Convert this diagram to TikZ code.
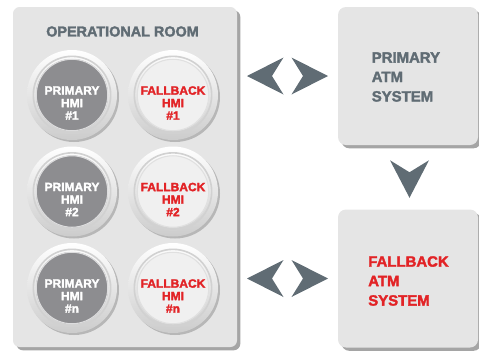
\documentclass[tikz,border=0pt]{standalone}
\usepackage{fontspec}
\setmainfont{Liberation Sans}[BoldFeatures={FakeBold=2.2}]
\usetikzlibrary{shadows,calc,positioning}

\definecolor{slate}{RGB}{96,108,116}
\definecolor{hmired}{RGB}{226,35,38}
\definecolor{boxgray}{RGB}{229,229,229}
\definecolor{discgray}{RGB}{141,141,144}
\definecolor{discwhite}{RGB}{240,240,240}

\tikzset{
  boxshadow/.style={drop shadow={shadow xshift=2.5pt,shadow yshift=-2.5pt,fill=black!70,opacity=.5}},
  roompanel/.style={rectangle,rounded corners=5pt,fill=boxgray,boxshadow,minimum width=168pt,minimum height=255pt,inner sep=0pt},
  sysbox/.style={rectangle,rounded corners=6pt,fill=boxgray,boxshadow,minimum width=105pt,minimum height=103.5pt,inner sep=0pt},
  hmi/.style={circle,minimum size=67.5pt,inner sep=0pt,top color=white,bottom color=black!20,
    drop shadow={shadow xshift=1.5pt,shadow yshift=-1.5pt,fill=black!50,opacity=.45}},
  primhmi/.style={hmi,path picture={
    \draw[black!18,line width=1.2pt] (path picture bounding box.center) circle (29pt);
    \fill[discgray] (path picture bounding box.center) circle (27pt);
    \draw[white!70!discgray,line width=.8pt] (path picture bounding box.center) circle (26.8pt);}},
  fallhmi/.style={hmi,path picture={
    \draw[black!18,line width=1.2pt] (path picture bounding box.center) circle (29pt);
    \fill[discwhite] (path picture bounding box.center) circle (27pt);
    \draw[black!12,line width=.8pt] (path picture bounding box.center) circle (26.8pt);}},
  hmitext/.style={align=center,inner sep=0pt,font=\fontsize{9}{9.4}\selectfont\bfseries},
  systext/.style={align=left,anchor=west,inner sep=0pt,font=\fontsize{11.2}{14.6}\selectfont\bfseries},
  roomtitle/.style={inner sep=0pt,text=slate,font=\fontsize{10.8}{12}\selectfont\bfseries},
  chevron/.style={fill=slate,draw=none}
}

\begin{document}
\begin{tikzpicture}[x=0.75pt,y=0.75pt,yscale=-1,xscale=1]
\useasboundingbox (0,0) rectangle (479,355);

%Operational room panel
\node[roompanel] (room) at (125,177) {};
% Text Node
\node[roomtitle] (roomlbl) at (122.5,31.5) {OPERATIONAL ROOM};

%Primary HMIs
\node[primhmi] (p1) at (72,95) {};
\node[primhmi] (p2) at (72,191.5) {};
\node[primhmi] (pn) at (72,288) {};
%Fallback HMIs
\node[fallhmi] (f1) at (173,95) {};
\node[fallhmi] (f2) at (173,191.5) {};
\node[fallhmi] (fn) at (173,288) {};

% Text Nodes
\node[hmitext,text=white] (p1t) at ($(p1)+(0,8)$) {PRIMARY\\HMI\\\#1};
\node[hmitext,text=white] (p2t) at ($(p2)+(0,8)$) {PRIMARY\\HMI\\\#2};
\node[hmitext,text=white] (pnt) at ($(pn)+(0,8)$) {PRIMARY\\HMI\\\#n};
\node[hmitext,text=hmired] (f1t) at ($(f1)+(0,8)$) {FALLBACK\\HMI\\\#1};
\node[hmitext,text=hmired] (f2t) at ($(f2)+(0,8)$) {FALLBACK\\HMI\\\#2};
\node[hmitext,text=hmired] (fnt) at ($(fn)+(0,8)$) {FALLBACK\\HMI\\\#n};

%ATM systems
\node[sysbox] (prim) at (408,76) {};
\node[sysbox] (fall) at (408,278.5) {};
\node[systext,text=slate] (primt) at (371.5,77) {PRIMARY\\ATM\\SYSTEM};
\node[systext,text=hmired] (fallt) at (368,281) {FALLBACK\\ATM\\SYSTEM};

%Chevrons
\coordinate (c1) at ($(room.east|-prim.center)!.5!(prim.west)$);
\coordinate (c2) at ($(room.east|-fall.center)!.5!(fall.west)$);
\coordinate (c3) at ($(prim.south)!.5!(fall.north)+(1.5,1.5)$);

\fill[chevron] ($(c1)+(-40.5,0)$) -- ++(36.5,-18.5) -- ++(-11.5,18.5) -- ++(11.5,18.5) -- cycle;
\fill[chevron] ($(c1)+(40.5,0)$) -- ++(-36.5,-18.5) -- ++(11.5,18.5) -- ++(-11.5,18.5) -- cycle;
\fill[chevron] ($(c2)+(-40.5,0)$) -- ++(36.5,-18.5) -- ++(-11.5,18.5) -- ++(11.5,18.5) -- cycle;
\fill[chevron] ($(c2)+(40.5,0)$) -- ++(-36.5,-18.5) -- ++(11.5,18.5) -- ++(-11.5,18.5) -- cycle;
\fill[chevron] ($(c3)+(0,19)$) -- ++(-19.5,-37.5) -- ++(19.5,12) -- ++(19.5,-12) -- cycle;

\end{tikzpicture}
\end{document}
